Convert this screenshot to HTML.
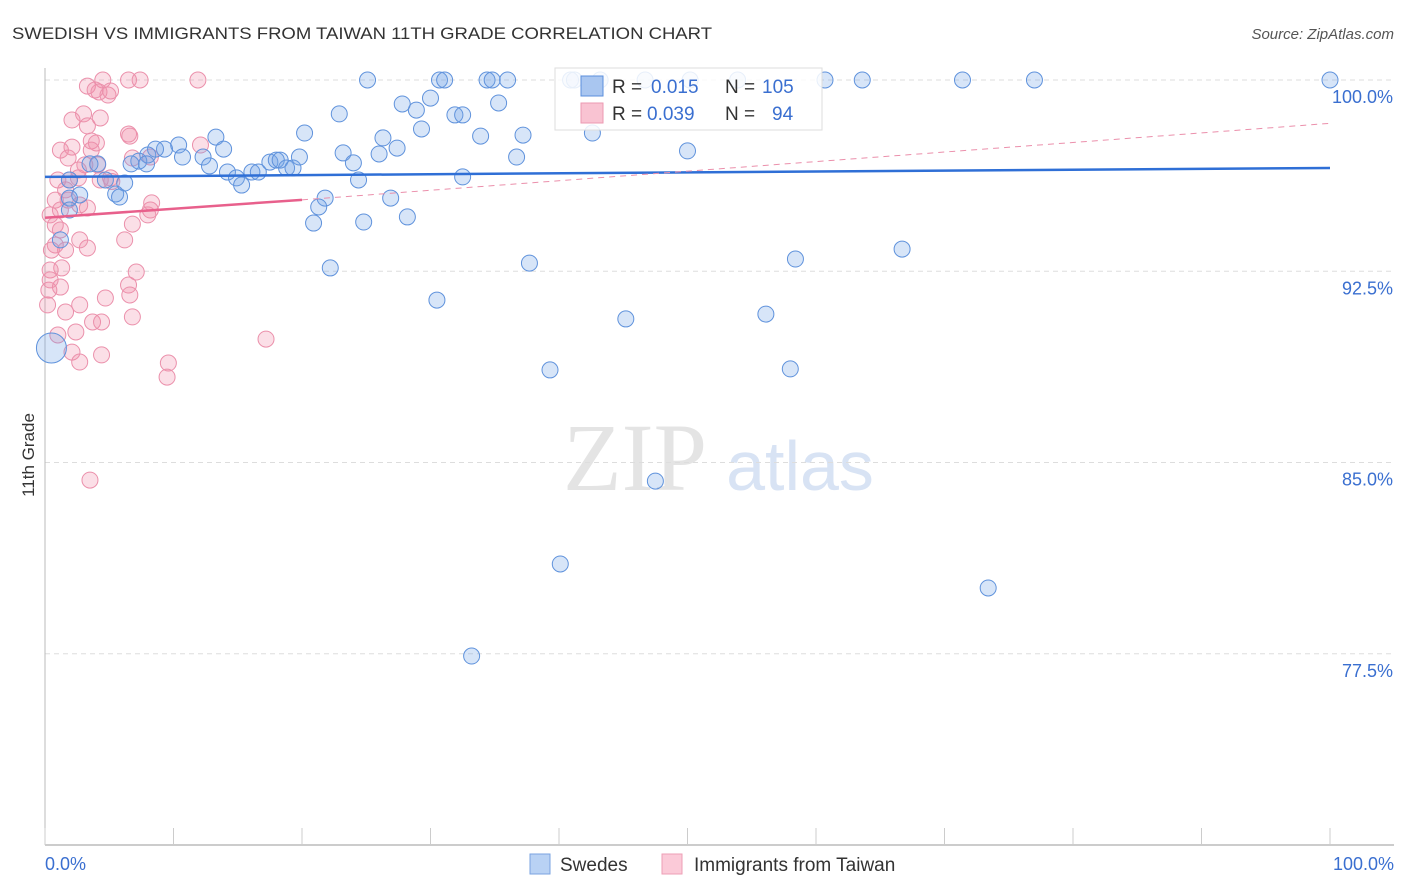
<!DOCTYPE html>
<html><head><meta charset="utf-8"><style>
body{margin:0;background:#fff;font-family:"Liberation Sans",sans-serif}
svg{display:block}
</style></head><body>
<svg id="chart" width="1406" height="892" viewBox="0 0 1406 892" xmlns="http://www.w3.org/2000/svg">
<text x="12" y="39" font-size="17" fill="#333" textLength="700" lengthAdjust="spacingAndGlyphs">SWEDISH VS IMMIGRANTS FROM TAIWAN 11TH GRADE CORRELATION CHART</text>
<text x="1394" y="39" font-size="15" fill="#555" text-anchor="end" font-style="italic">Source: ZipAtlas.com</text>
<text transform="translate(34,455) rotate(-90)" font-size="17" fill="#333" text-anchor="middle">11th Grade</text>
<g>
<text x="635" y="490" font-size="96" fill="#e4e4e4" text-anchor="middle" font-family="Liberation Serif,serif">ZIP</text>
<text x="800" y="490" font-size="70" fill="#d8e3f4" text-anchor="middle">atlas</text>
</g>
<g id="grid"></g>
<g id="axes"></g>
<g id="pts"></g>
<g id="trends"></g>
<g>
<rect x="555" y="68" width="267" height="62" fill="#fff" fill-opacity="0.85" stroke="#ddd"/>
<rect x="581" y="76" width="22" height="20" fill="#a9c6f0" stroke="#5b8fdc"/>
<rect x="581" y="103" width="22" height="20" fill="#f9c3d2" stroke="#ec9ab2"/>
<text x="612" y="93" font-size="19" fill="#333">R = </text><text x="651" y="93" font-size="19" fill="#3a6fd0">0.015</text>
<text x="725" y="93" font-size="19" fill="#333">N = </text><text x="762" y="93" font-size="19" fill="#3a6fd0">105</text>
<text x="612" y="120" font-size="19" fill="#333">R = </text><text x="647" y="120" font-size="19" fill="#3a6fd0">0.039</text>
<text x="725" y="120" font-size="19" fill="#333">N = </text><text x="772" y="120" font-size="19" fill="#3a6fd0">94</text>
</g>
<g>
<rect x="530" y="854" width="20" height="20" fill="#b9d2f4" stroke="#7aa3e0"/>
<text x="560" y="871" font-size="19" fill="#333">Swedes</text>
<rect x="662" y="854" width="20" height="20" fill="#fbcad8" stroke="#ee9fb6"/>
<text x="694" y="871" font-size="19" fill="#333">Immigrants from Taiwan</text>
</g>
</svg>
<script>
const blueX=[25.1,30.7,31.1,34.4,34.8,36.0,40.9,41.2,46.7,50.2,53.9,60.7,63.6,71.4,77.0,100,43.2,
22.9,27.8,28.9,30.0,31.9,32.5,35.3,29.3,33.9,37.2,26.3,27.4,20.2,13.3,10.4,9.3,8.6,13.9,8.0,7.3,6.7,7.9,10.7,12.3,12.8,14.2,14.9,15.3,16.1,16.6,17.5,18.0,18.3,18.8,19.3,19.8,23.2,24.0,26.0,24.4,36.7,50.0,42.6,32.5,6.2,5.5,4.7,4.1,3.5,5.8,1.9,2.7,1.9,21.8,21.3,20.9,24.8,26.9,28.2,22.2,37.7,58.4,66.7,30.5,45.2,56.1,39.3,58.0,47.5,40.1,73.4,33.2,0.5,1.2,1.9];
const blueY=[100,100,100,100,100,100,100,100,100,100,100,100,100,100,100,100,100,
98.67,99.06,98.82,99.29,98.63,98.63,99.1,98.08,97.8,97.84,97.73,97.33,97.92,97.76,97.45,97.29,97.29,97.29,97.06,96.82,96.71,96.71,96.98,96.98,96.63,96.39,96.16,95.88,96.39,96.39,96.78,96.86,96.86,96.55,96.55,96.98,97.14,96.75,97.1,96.08,96.98,97.22,97.92,96.2,95.96,95.53,96.08,96.71,96.71,95.41,96.08,95.49,95.37,95.37,95.02,94.39,94.43,95.37,94.63,92.63,92.82,92.98,93.37,91.37,90.63,90.82,88.63,88.67,84.27,81.02,80.08,77.41,89.49,93.73,94.9];
const blueR=blueX.map((v,i)=>i===89?15:8);
const pinkX=[3.3,4.5,6.5,7.4,11.9,4.2,4.9,3.9,5.1,3.0,4.3,3.3,3.6,4.0,6.5,6.6,1.2,2.1,1.8,3.6,3.1,4.1,2.6,6.8,8.2,12.1,1.0,1.6,1.9,2.6,0.8,1.2,1.8,2.7,3.3,4.3,5.2,0.4,0.8,0.8,1.2,0.5,1.6,3.3,6.2,8.2,8.0,8.3,6.8,1.3,0.4,2.7,4.7,2.7,7.1,6.5,6.6,2.4,1.6,3.7,4.4,6.8,0.3,0.2,5.1,1.0,2.1,4.4,9.6,9.5,17.2,2.7,3.5,1.2,0.4,2.1];
const pinkY=[99.76,100,100,100,100,99.53,99.41,99.61,99.57,98.67,98.51,98.2,97.61,97.53,97.88,97.8,97.25,97.37,96.94,97.25,96.67,96.67,96.47,96.94,96.98,97.45,96.08,95.69,96.08,96.16,95.29,94.9,95.29,95.1,94.98,96.08,96.02,94.71,94.31,93.53,94.12,93.33,93.33,93.41,93.73,94.9,94.71,95.18,94.35,92.63,92.55,93.73,91.45,91.18,92.47,91.96,91.57,90.12,90.9,90.51,90.51,90.71,91.76,91.18,96.16,90.0,89.33,89.22,88.9,88.35,89.84,88.94,84.31,91.88,92.16,98.43];
const yTicks=[100,92.5,85,77.5];
const yTickLabels=["100.0%","92.5%","85.0%","77.5%"];
const xTickLabels=["0.0%","100.0%"];
const blueTrend=[0,96.2,100,96.55];
const pinkTrendSolid=[0,94.6,20,95.3];
const pinkTrendDash=[20,95.3,100,98.3];
const X=v=>45+v*12.85, Y=v=>80+(100-v)*25.5;
const NS="http://www.w3.org/2000/svg";
function mk(p,t,a){const e=document.createElementNS(NS,t);for(const k in a)e.setAttribute(k,a[k]);p.appendChild(e);return e;}
const grid=document.getElementById('grid'),axes=document.getElementById('axes'),pts=document.getElementById('pts'),tr=document.getElementById('trends');
yTicks.forEach((t,i)=>{
 const l=mk(grid,'line',{x1:45,x2:1394,y1:Y(t),y2:Y(t),stroke:'#ddd','stroke-dasharray':'5,4'});
 
 
 const tx=mk(axes,'text',{x:1393,y:Y(t)+23,'font-size':18,fill:'#3a6fd0','text-anchor':'end'});
 tx.textContent=yTickLabels[i];
 
 
});
const ya=mk(axes,'line',{x1:45,x2:45,y1:68,y2:845,stroke:'#bbb'});


const xa=mk(axes,'line',{x1:45,x2:1394,y1:845,y2:845,stroke:'#bbb','stroke-width':1.5});


for(let i=0;i<=10;i++){const k=mk(axes,'line',{x1:X(i*10),x2:X(i*10),y1:828,y2:845,stroke:'#ccc'});
 
 }
[[0,'start',45],[100,'end',1394]].forEach((d,i)=>{const t=mk(axes,'text',{x:d[2],y:870,'font-size':18,fill:'#3a6fd0','text-anchor':d[1]});t.textContent=xTickLabels[i];
 
 });
pinkX.forEach((x,i)=>{const c=mk(pts,'circle',{cx:X(x),cy:Y(pinkY[i]),r:8,fill:'rgba(242,140,170,0.28)',stroke:'#eb90ab','stroke-width':1});
 
 });
blueX.forEach((x,i)=>{const c=mk(pts,'circle',{cx:X(x),cy:Y(blueY[i]),r:blueR[i],fill:'rgba(110,160,230,0.28)',stroke:'#5f92dc','stroke-width':1});
 
 });
const bt=mk(tr,'line',{x1:X(blueTrend[0]),y1:Y(blueTrend[1]),x2:X(blueTrend[2]),y2:Y(blueTrend[3]),stroke:'#2f6fd6','stroke-width':2.5});


const pt=mk(tr,'line',{x1:X(pinkTrendSolid[0]),y1:Y(pinkTrendSolid[1]),x2:X(pinkTrendSolid[2]),y2:Y(pinkTrendSolid[3]),stroke:'#e8608c','stroke-width':2.5});


const pd=mk(tr,'line',{x1:X(pinkTrendDash[0]),y1:Y(pinkTrendDash[1]),x2:X(pinkTrendDash[2]),y2:Y(pinkTrendDash[3]),stroke:'#eb8fab','stroke-width':1,'stroke-dasharray':'6,5'});


</script>
</body></html>
